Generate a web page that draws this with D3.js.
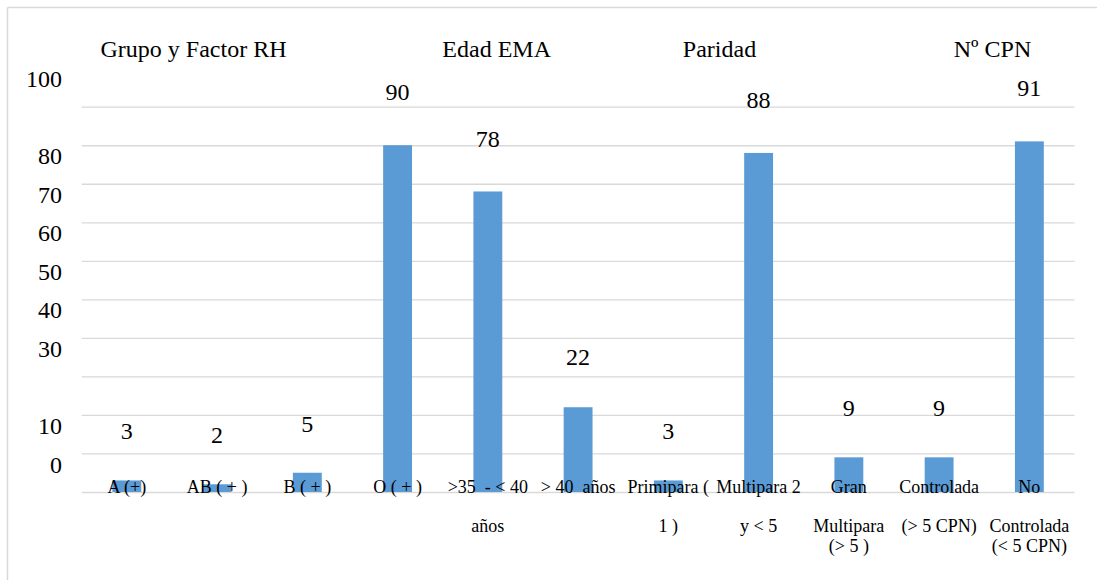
<!DOCTYPE html>
<html>
<head>
<meta charset="utf-8">
<script src="https://cdn.jsdelivr.net/npm/d3@7"></script>
<style>
  html, body { margin: 0; padding: 0; background: #fff; }
  svg { display: block; }
  text { font-family: "Liberation Serif", "Times New Roman", serif; fill: #000; white-space: pre; }
</style>
</head>
<body>
<svg id="chart" width="1097" height="580"></svg>
<script>
// ---- data ----
const categories = ["A (+)", "AB ( + )", "B ( + )", "O ( + )", ">35  - < 40 años", "> 40  años",
  "Primipara ( 1 )", "Multipara 2 y < 5", "Gran Multipara (> 5 )", "Controlada (> 5 CPN)", "No Controlada (< 5 CPN)"];
const categoryLines = [
  ["A (+)"], ["AB ( + )"], ["B ( + )"], ["O ( + )"],
  [">35  - < 40", "años"], ["> 40  años"],
  ["Primipara (", "1 )"], ["Multipara 2", "y < 5"],
  ["Gran", "Multipara", "(> 5 )"], ["Controlada", "(> 5 CPN)"], ["No", "Controlada", "(< 5 CPN)"]
];
const values = [3, 2, 5, 90, 78, 22, 3, 88, 9, 9, 91];
const groupTitles = ["Grupo y Factor RH", "Edad EMA", "Paridad", "Nº CPN"];
const gridTicks = [0, 10, 20, 30, 40, 50, 60, 70, 80, 90, 100];
const yTickLabels = [0, 10, 30, 40, 50, 60, 70, 80, 100];

// ---- layout ----
const svg = d3.select("#chart");
const plotLeft = 81.7, plotRight = 1074.5, plotBottom = 492, plotTop = 106.7;

const x = d3.scaleBand().domain(categories).range([plotLeft, plotRight]).paddingInner(0.68).paddingOuter(0.34);
const y = d3.scaleLinear().domain([0, 100]).range([plotBottom, plotTop]);
const yLabel = d3.scaleLinear().domain([0, 100]).range([443, 53]);

// outer border (left + top)
svg.append("line").attr("x1", 7.5).attr("x2", 7.5).attr("y1", 7.5).attr("y2", 580)
  .attr("stroke", "#d9d9d9").attr("stroke-width", 1.5);
svg.append("line").attr("x1", 7.5).attr("x2", 1097).attr("y1", 7.5).attr("y2", 7.5)
  .attr("stroke", "#d9d9d9").attr("stroke-width", 1.5);

// gridlines
const grid = svg.append("g").attr("transform", `translate(${plotLeft},0)`)
  .call(d3.axisLeft(y).tickValues(gridTicks).tickSize(-(plotRight - plotLeft)).tickFormat(""));
grid.select(".domain").remove();
grid.selectAll(".tick line").attr("stroke", "#d9d9d9").attr("stroke-width", 1.3);

// y tick labels (shifted as in reference)
const yAx = svg.append("g").attr("transform", `translate(62,0)`)
  .call(d3.axisLeft(y).tickValues(yTickLabels).tickSize(0).tickPadding(0));
yAx.select(".domain").remove();
yAx.selectAll(".tick text").attr("font-size", 24).attr("dy", "-20").attr("x", 0)
  .attr("text-anchor", "end").attr("font-family", "Liberation Serif").attr("fill", "#000");

// bars
svg.append("g").selectAll("rect").data(values).join("rect")
  .attr("x", (d, i) => x(categories[i]))
  .attr("width", x.bandwidth())
  .attr("y", d => y(d))
  .attr("height", d => y(0) - y(d))
  .attr("fill", "#5b9bd5");

// value labels
svg.append("g").selectAll("text").data(values).join("text")
  .attr("x", (d, i) => x(categories[i]) + x.bandwidth() / 2)
  .attr("y", d => yLabel(d) + 8)
  .attr("text-anchor", "middle")
  .attr("font-size", 24)
  .text(d => d);

// category labels
const lineY = [493, 532, 552];
const catG = svg.append("g").selectAll("text").data(categoryLines).join("text")
  .attr("text-anchor", "middle")
  .attr("font-size", 18);
catG.each(function (lines, i) {
  const cx = x(categories[i]) + x.bandwidth() / 2;
  d3.select(this).selectAll("tspan").data(lines).join("tspan")
    .attr("x", cx).attr("y", (d, j) => lineY[j]).text(d => d);
});

// group titles
const titleX = [193.5, 496.7, 719.5, 992.5];
svg.append("g").selectAll("text").data(groupTitles).join("text")
  .attr("x", (d, i) => titleX[i])
  .attr("y", 57)
  .attr("text-anchor", "middle")
  .attr("font-size", 24)
  .text(d => d);
</script>
</body>
</html>
